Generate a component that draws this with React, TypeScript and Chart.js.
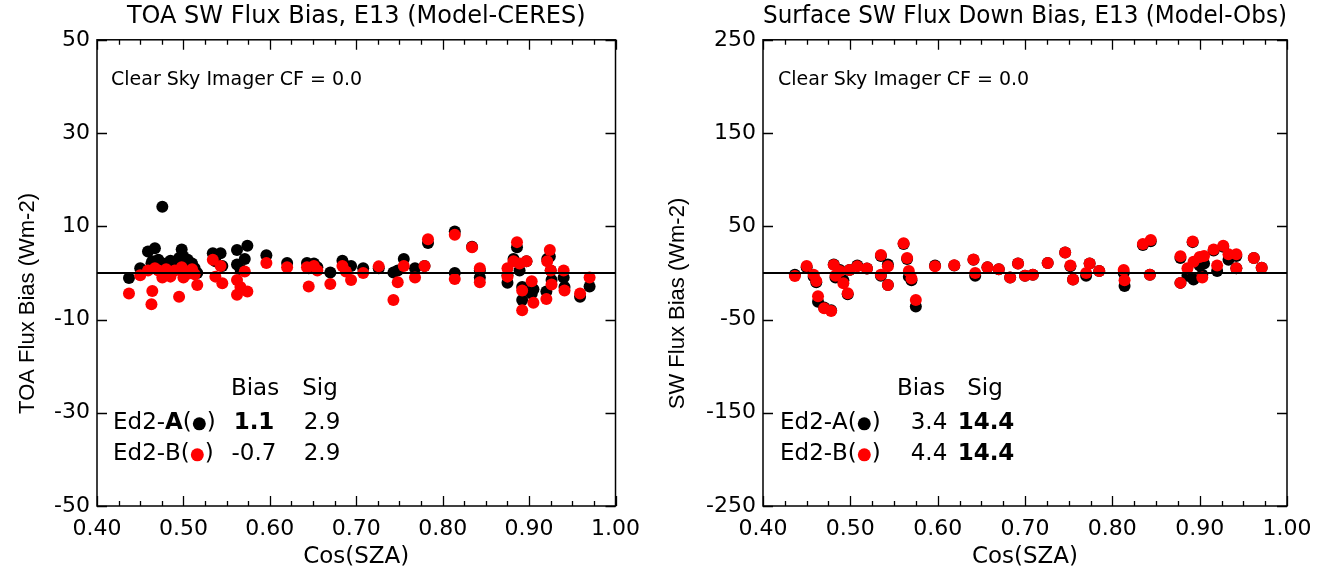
import React, { useEffect, useRef } from "react";
import { Chart, registerables } from "chart.js";

Chart.register(...registerables);

// ---------- data ----------
const X_TICKS = [0.4, 0.5, 0.6, 0.7, 0.8, 0.9, 1.0];
const TOA_Y_TICKS = [-50, -30, -10, 10, 30, 50];
const SFC_Y_TICKS = [-250, -150, -50, 50, 150, 250];

const TOA_COSSZA = [
  0.437, 0.45, 0.459, 0.463, 0.464, 0.467, 0.471, 0.4756, 0.48, 0.485, 0.49, 0.495, 0.498, 0.5, 0.505, 0.51,
  0.513, 0.516, 0.534, 0.537, 0.543, 0.545, 0.562, 0.562, 0.566, 0.571, 0.574, 0.596, 0.62, 0.643, 0.645, 0.651,
  0.655, 0.67, 0.684, 0.688, 0.694, 0.708, 0.726, 0.743, 0.748, 0.755, 0.768, 0.779, 0.783, 0.814, 0.814, 0.834,
  0.843, 0.843, 0.875, 0.875, 0.886, 0.882, 0.889, 0.892, 0.892, 0.897, 0.903, 0.905, 0.92, 0.921, 0.924, 0.925,
  0.926, 0.94, 0.941, 0.959, 0.97,
];
const TOA_ED2A = [
  -1.1, 1.0, 4.6, 2.0, 2.5, 5.3, 2.8, 14.2, 2.0, 2.6, 2.4, 3.2, 5.0, 3.5, 2.8, 2.0,
  1.0, 0.0, 4.2, 2.5, 4.2, 1.5, 4.9, 1.8, 0.8, 3.0, 5.8, 3.8, 2.1, 2.1, 1.0, 2.0,
  1.2, 0.1, 2.6, 1.5, 1.5, 1.0, 1.0, 0.1, 0.5, 3.0, 1.0, 1.5, 6.4, 8.9, 0.0, 5.6,
  0.5, -1.0, -2.1, -0.5, 5.5, 3.0, 0.5, -5.8, -3.0, 2.5, -4.5, -3.5, -4.0, 3.0, 3.5, 0.5,
  -1.5, -1.0, -3.0, -5.1, -2.9,
];
const TOA_ED2B = [
  -4.4, -0.5, 0.5, -6.7, -3.9, 1.0, 0.5, -1.0, 0.8, -0.8, 0.5, -5.1, 1.2, -1.0, -0.2, 0.8,
  -0.3, -2.6, 2.8, -0.8, 1.5, -2.2, -1.5, -4.7, -3.0, 0.3, -4.0, 2.1, 1.2, 1.2, -2.9, 1.5,
  0.5, -2.4, 1.5, 0.3, -1.5, 0.0, 1.4, -5.8, -2.0, 1.5, -1.0, 1.5, 7.2, 8.2, -1.3, 5.5,
  1.0, -2.0, 1.0, -0.8, 6.6, 2.5, 2.0, -8.0, -3.8, 2.5, -1.8, -6.4, -5.6, 2.5, 4.9, 0.5,
  -2.5, 0.5, -3.8, -4.4, -1.0,
];

const SFC_COSSZA = [
  0.4365, 0.45, 0.458, 0.461, 0.463, 0.47, 0.478, 0.481, 0.483, 0.488, 0.492, 0.497, 0.499, 0.508, 0.519, 0.535,
  0.535, 0.543, 0.543, 0.561, 0.565, 0.567, 0.57, 0.575, 0.597, 0.619, 0.641, 0.643, 0.657, 0.67, 0.683, 0.692,
  0.7, 0.709, 0.726, 0.746, 0.752, 0.755, 0.77, 0.774, 0.785, 0.813, 0.814, 0.835, 0.844, 0.843, 0.878, 0.878,
  0.886, 0.892, 0.893, 0.9, 0.905, 0.903, 0.916, 0.92, 0.927, 0.933, 0.942, 0.942, 0.962, 0.971,
];
const SFC_ED2A = [
  -2, 6, -4, -10, -31, -37, -40, 9, -5, 3, -8, -23, 3.2, 8, 4.6, 18,
  -3, 9, -13, 31, 15, -4, -8, -36, 8, 8, 14, -3, 6, 3.9, -5, 10,
  -3, -2, 10.7, 22, 7, -7, -3, 10, 2, 0, -14, 30, 34, -2, 16, -10.7,
  -3, 33, -7, 8, 10, -2, 24, 2, 28, 14, 18, 5, 16, 5.4,
];
const SFC_ED2B = [
  -3.2, 7.5, -2, -8.6, -25, -38, -40.8, 8.6, -3, 2, -11, -21.8, 3.2, 7, 4.6, 19.3,
  -2, 7, -13, 31.8, 16, 2, -6, -29, 7.2, 8.2, 14.3, 0, 6, 3.9, -5, 10,
  -3, -2, 10.7, 21.9, 8, -7, 0, 10, 2, 3, -8, 31, 35.4, -2, 17.9, -10.7,
  5, 33.6, 12, 17, 18, -5, 25, 8, 29, 20, 20, 5, 16, 5.4,
];

const SERIES_NAMES = ["Ed2-A", "Ed2-B"];
const SERIES_COLORS = ["#000000", "#ff0000"];
const TOA_BIAS = ["1.1", "-0.7"];
const TOA_SIG = ["2.9", "2.9"];
const SFC_BIAS = ["3.4", "4.4"];
const SFC_SIG = ["14.4", "14.4"];

const FONT = '"DejaVu Sans", "Liberation Sans", Arial, sans-serif';
const FONT_NARROW = '"Liberation Sans", Arial, Helvetica, sans-serif';

type PanelCfg = {
  title: string;
  yTitle: string;
  yTicks: number[];
  xs: number[];
  a: number[];
  b: number[];
  bias: string[];
  sig: string[];
  boldLetter: boolean[];
  boldBias: boolean[];
  boldSig: boolean[];
  yWidth: number;
  padRight: number;
  canvasWidth: number;
  canvasLeft: number;
  legendCols: { label: number; biasHead: number; bias: number; sigHead: number; sig: number };
  noteX: number;
};

function makePlugin(cfg: PanelCfg) {
  return {
    id: "frameAndNotes",
    afterDraw(chart: any) {
      const { ctx, chartArea, scales } = chart;
      const { left, right, top, bottom } = chartArea;
      const xs = scales.x;
      const ys = scales.y;
      ctx.save();
      ctx.strokeStyle = "#000";
      ctx.lineWidth = 1.5;
      ctx.strokeRect(left, top, right - left, bottom - top);
      ctx.beginPath();
      const MAJ = 10;
      const MIN = 5;
      for (let i = 0; i < X_TICKS.length; i++) {
        const v = X_TICKS[i];
        const px = Math.round(xs.getPixelForValue(v)) + 0.5;
        ctx.moveTo(px, bottom);
        ctx.lineTo(px, bottom - MAJ);
        ctx.moveTo(px, top);
        ctx.lineTo(px, top + MAJ);
        if (i < X_TICKS.length - 1) {
          const step = (X_TICKS[i + 1] - v) / 4;
          for (let k = 1; k < 4; k++) {
            const mx = Math.round(xs.getPixelForValue(v + k * step)) + 0.5;
            ctx.moveTo(mx, bottom);
            ctx.lineTo(mx, bottom - MIN);
            ctx.moveTo(mx, top);
            ctx.lineTo(mx, top + MIN);
          }
        }
      }
      for (const v of cfg.yTicks) {
        const py = Math.round(ys.getPixelForValue(v)) + 0.5;
        ctx.moveTo(left, py);
        ctx.lineTo(left + MAJ, py);
        ctx.moveTo(right, py);
        ctx.lineTo(right - MAJ, py);
      }
      ctx.lineWidth = 1.3;
      ctx.stroke();

      // note
      ctx.fillStyle = "#000";
      ctx.textBaseline = "middle";
      ctx.textAlign = "left";
      ctx.font = `19px ${FONT}`;
      ctx.fillText("Clear Sky Imager CF = 0.0", left + cfg.noteX, top + 40);

      // legend table
      const c = cfg.legendCols;
      const LF = 23;
      ctx.font = `${LF}px ${FONT}`;
      ctx.textAlign = "center";
      ctx.fillText("Bias", left + c.biasHead, top + 349);
      ctx.fillText("Sig", left + c.sigHead, top + 349);
      for (let i = 0; i < SERIES_NAMES.length; i++) {
        const y = top + 383 + i * 31;
        const name = SERIES_NAMES[i];
        const prefix = name.slice(0, name.length - 1);
        const letter = name.slice(name.length - 1);
        let x = left + c.label;
        ctx.textAlign = "left";
        ctx.font = `${LF}px ${FONT}`;
        ctx.fillText(prefix, x, y);
        x += ctx.measureText(prefix).width;
        ctx.font = `${cfg.boldLetter[i] ? "bold " : ""}${LF}px ${FONT}`;
        ctx.fillText(letter, x, y);
        x += ctx.measureText(letter).width;
        ctx.font = `${LF}px ${FONT}`;
        ctx.fillText("(", x, y);
        x += ctx.measureText("(").width;
        ctx.beginPath();
        ctx.fillStyle = SERIES_COLORS[i];
        ctx.arc(x + 7.5, y + 1, 6.5, 0, Math.PI * 2);
        ctx.fill();
        ctx.fillStyle = "#000";
        x += 15;
        ctx.fillText(")", x, y);
        ctx.textAlign = "center";
        ctx.font = `${cfg.boldBias[i] ? "bold " : ""}${LF}px ${FONT}`;
        ctx.fillText(cfg.bias[i], left + c.bias, y);
        ctx.font = `${cfg.boldSig[i] ? "bold " : ""}${LF}px ${FONT}`;
        ctx.fillText(cfg.sig[i], left + c.sig, y);
      }
      ctx.restore();
    },
  };
}

function buildConfig(cfg: PanelCfg): any {
  const tickFont = { family: FONT, size: 22 };
  const titleFont = { family: FONT, size: 24, weight: "normal" as const };
  const xTitleFont = { family: FONT, size: 23, weight: "normal" as const };
  const yTitleFont = { family: FONT_NARROW, size: 22, weight: "normal" as const };
  return {
    type: "scatter",
    data: {
      datasets: [
        {
          type: "line",
          label: "zero",
          data: [
            { x: X_TICKS[0], y: 0 },
            { x: X_TICKS[X_TICKS.length - 1], y: 0 },
          ],
          borderColor: "#000",
          borderWidth: 2,
          pointRadius: 0,
          fill: false,
          order: 0,
        },
        {
          label: SERIES_NAMES[1],
          data: cfg.xs.map((x, i) => ({ x, y: cfg.b[i] })),
          backgroundColor: SERIES_COLORS[1],
          borderWidth: 0,
          pointRadius: 6,
          order: 1,
        },
        {
          label: SERIES_NAMES[0],
          data: cfg.xs.map((x, i) => ({ x, y: cfg.a[i] })),
          backgroundColor: SERIES_COLORS[0],
          borderWidth: 0,
          pointRadius: 6,
          order: 2,
        },
      ],
    },
    options: {
      responsive: false,
      animation: false,
      devicePixelRatio: 1,
      layout: { padding: { left: 0, right: cfg.padRight, top: 0, bottom: 0 } },
      plugins: {
        legend: { display: false },
        tooltip: { enabled: false },
        title: {
          display: true,
          text: cfg.title,
          fullSize: false,
          color: "#000",
          font: titleFont,
          padding: { top: 2, bottom: 9 },
        },
      },
      scales: {
        x: {
          type: "linear",
          min: X_TICKS[0],
          max: X_TICKS[X_TICKS.length - 1],
          afterBuildTicks: (s: any) => {
            s.ticks = X_TICKS.map((v) => ({ value: v }));
          },
          afterFit: (s: any) => {
            s.height = 67;
          },
          grid: { display: false, drawTicks: false },
          border: { display: false },
          ticks: {
            color: "#000",
            font: tickFont,
            padding: 10,
            maxRotation: 0,
            autoSkip: false,
            callback: (v: any) => Number(v).toFixed(2),
          },
          title: {
            display: true,
            text: "Cos(SZA)",
            color: "#000",
            font: xTitleFont,
            padding: { top: 0, bottom: 2 },
          },
        },
        y: {
          type: "linear",
          min: cfg.yTicks[0],
          max: cfg.yTicks[cfg.yTicks.length - 1],
          afterBuildTicks: (s: any) => {
            s.ticks = cfg.yTicks.map((v) => ({ value: v }));
          },
          afterFit: (s: any) => {
            s.width = cfg.yWidth;
          },
          grid: { display: false, drawTicks: false },
          border: { display: false },
          ticks: { color: "#000", font: tickFont, padding: 7, autoSkip: false },
          title: {
            display: true,
            // trailing spaces shift the rotated title down, as in the original
            text: cfg.yTitle + "          ",
            color: "#000",
            font: yTitleFont,
            padding: { top: 15, bottom: 0 },
          },
        },
      },
    },
    plugins: [makePlugin(cfg)],
  };
}

const TOA_CFG: PanelCfg = {
  title: "TOA SW Flux Bias, E13 (Model-CERES)",
  yTitle: "TOA Flux Bias (Wm-2)",
  yTicks: TOA_Y_TICKS,
  xs: TOA_COSSZA,
  a: TOA_ED2A,
  b: TOA_ED2B,
  bias: TOA_BIAS,
  sig: TOA_SIG,
  boldLetter: [true, false],
  boldBias: [true, false],
  boldSig: [false, false],
  yWidth: 97,
  padRight: 29,
  canvasWidth: 650,
  canvasLeft: 0,
  legendCols: { label: 16, biasHead: 158, bias: 157, sigHead: 223, sig: 225 },
  noteX: 14,
};

const SFC_CFG: PanelCfg = {
  title: "Surface SW Flux Down Bias, E13 (Model-Obs)",
  yTitle: "SW Flux Bias (Wm-2)",
  yTicks: SFC_Y_TICKS,
  xs: SFC_COSSZA,
  a: SFC_ED2A,
  b: SFC_ED2B,
  bias: SFC_BIAS,
  sig: SFC_SIG,
  boldLetter: [false, false],
  boldBias: [false, false],
  boldSig: [true, true],
  yWidth: 113,
  padRight: 37,
  canvasWidth: 674,
  canvasLeft: 650,
  legendCols: { label: 17, biasHead: 158, bias: 166, sigHead: 222, sig: 223 },
  noteX: 15,
};

function Panel({ cfg }: { cfg: PanelCfg }) {
  const ref = useRef<HTMLCanvasElement | null>(null);
  useEffect(() => {
    if (!ref.current) return;
    const chart = new Chart(ref.current, buildConfig(cfg));
    return () => chart.destroy();
  }, [cfg]);
  return (
    <div style={{ position: "absolute", left: cfg.canvasLeft, top: 0, width: cfg.canvasWidth, height: 573 }}>
      <canvas
        ref={ref}
        width={cfg.canvasWidth}
        height={573}
        style={{ width: cfg.canvasWidth, height: 573, display: "block" }}
      />
    </div>
  );
}

export default function App() {
  return (
    <div style={{ position: "fixed", left: 0, top: 0, width: 1324, height: 573, background: "#fff", overflow: "hidden" }}>
      <Panel cfg={TOA_CFG} />
      <Panel cfg={SFC_CFG} />
    </div>
  );
}
